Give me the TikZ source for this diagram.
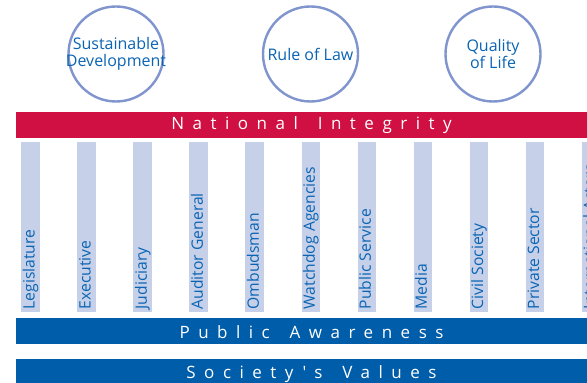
\documentclass[tikz,border=0pt]{standalone}
\usepackage{fontspec}
\setmainfont{Open Sans}
\newfontfamily\barfont[LetterSpace=50]{Open Sans}
\newcommand{\wgap}{\hspace{7pt}}
\definecolor{nired}{RGB}{208,16,66}
\definecolor{niblue}{RGB}{0,93,170}
\definecolor{pillarfill}{RGB}{198,209,233}
\definecolor{txtblue}{RGB}{10,100,180}
\definecolor{ringblue}{RGB}{128,148,206}
\tikzset{
  ring/.style={circle, draw=ringblue, line width=2.4pt, minimum size=95pt, inner sep=0pt},
  ringtext/.style={text=txtblue, align=center, inner sep=0pt, font=\fontsize{16}{17.6}\selectfont},
  band/.style={anchor=south west, inner sep=0pt, outer sep=0pt, minimum width=600pt},
  bartext/.style={text=white, anchor=base, inner sep=0pt, font=\barfont\fontsize{17}{18}\selectfont},
  pillar/.style={anchor=south west, fill=pillarfill, inner sep=0pt, outer sep=0pt, minimum width=18.7pt, minimum height=170pt},
  pillartext/.style={text=txtblue, rotate=90, anchor=base west, inner sep=0pt, font=\fontsize{15.7}{18}\selectfont}
}
\begin{document}
\begin{tikzpicture}[x=1pt,y=1pt]
\useasboundingbox (0,0) rectangle (587,383);
\clip (0,0) rectangle (587,383);
% circles
\node[ring] (c1) at (116,329) {};
\node[ring] (c2) at (310.5,329) {};
\node[ring] (c3) at (493,329) {};
\node[ringtext] (t1) at (c1.center) {Sustainable\\Development};
\node[ringtext] (t2) at (c2.center) {Rule of Law};
\node[ringtext] (t3) at (c3.center) {Quality\\of Life};
% bands
\node[band, fill=nired, minimum height=26.6pt] (nib) at (16,244.7) {};
\node[band, fill=niblue, minimum height=26.6pt] (pab) at (16,38.7) {};
\node[band, fill=niblue, minimum height=30pt] (svb) at (16,-6) {};
\node[bartext] (nil) at (311.5,253) {National \wgap Integrity};
\node[bartext] (pal) at (311.5,44) {Public \wgap Awareness};
\node[bartext] (svl) at (311.5,4.7) {Society's \wgap Values};
% pillars
\foreach \i/\t in {0/Legislature,1/Executive,2/Judiciary,3/Auditor General,4/Ombudsman,5/Watchdog Agencies,6/Public Service,7/Media,8/Civil Society,9/Private Sector,10/International Actors}{
  \node[pillar] (p\i) at ({21.3+56.04*\i},71) {};
  \node[pillartext] (l\i) at ({21.3+56.04*\i+13.4},73.5) {\t};
}
\end{tikzpicture}
\end{document}
